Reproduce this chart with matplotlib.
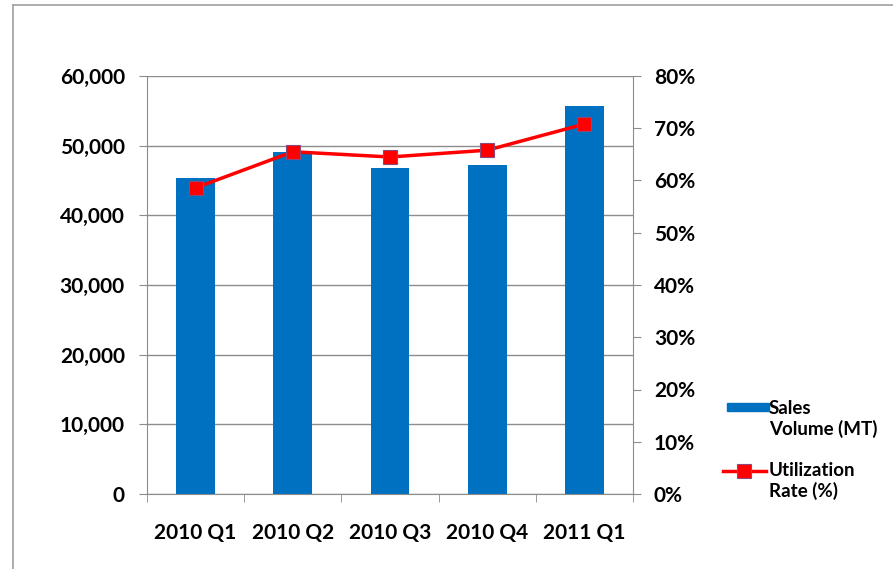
import matplotlib
matplotlib.use("Agg")
import matplotlib.pyplot as plt
from matplotlib.lines import Line2D
from matplotlib.patches import Rectangle
from matplotlib.ticker import FuncFormatter, MultipleLocator

plt.rcParams["font.family"] = ["Lato", "DejaVu Sans"]

quarters = ["2010 Q1", "2010 Q2", "2010 Q3", "2010 Q4", "2011 Q1"]
sales_mt = [45400, 49100, 46800, 47200, 55700]
utilization_pct = [58.6, 65.5, 64.5, 65.8, 70.8]

BAR_BLUE = "#0070C0"
LINE_RED = "#FF0000"
GRID = "#8c8c8c"
W, H = 893, 569


def fx(px):
    return px / W


def fy(py):
    return 1 - py / H


fig = plt.figure(figsize=(W / 100, H / 100), dpi=100)
fig.patch.set_facecolor("white")

# outer frame of the chart box
fig.add_artist(Line2D([fx(13), fx(13)], [0, fy(5)], color="#a0a0a0", lw=1.2))
fig.add_artist(Line2D([fx(13), 1], [fy(5), fy(5)], color="#a0a0a0", lw=1.2))

ax = fig.add_axes([fx(147), fy(494), fx(633 - 147), (494 - 76) / H])
x = range(len(quarters))
ax.bar(x, sales_mt, width=0.4, color=BAR_BLUE, zorder=2)
ax.set_xlim(-0.5, len(quarters) - 0.5)
ax.set_ylim(0, 60000)
ax.yaxis.set_major_locator(MultipleLocator(10000))
ax.yaxis.set_major_formatter(FuncFormatter(lambda v, _: f"{int(v):,}"))
ax.grid(True, axis="y", color=GRID, lw=1.0, zorder=0)
ax.set_xticks(list(x))
ax.set_xticklabels(quarters)
ax.set_xticks([i + 0.5 for i in range(-1, len(quarters))], minor=True)
ax.tick_params(axis="x", which="major", length=0, pad=21, labelsize=15)
ax.tick_params(axis="x", which="minor", length=6, color=GRID, direction="out")
ax.tick_params(axis="y", length=6, color=GRID, direction="out", pad=10, labelsize=15)
for lbl in ax.get_xticklabels() + ax.get_yticklabels():
    lbl.set_fontweight("bold")
for side in ["top", "right"]:
    ax.spines[side].set_visible(False)
ax.spines["left"].set_color(GRID)
ax.spines["bottom"].set_color(GRID)

ax2 = ax.twinx()
ax2.plot(x, utilization_pct, color=LINE_RED, lw=2.5, marker="s", markersize=10,
         markerfacecolor=LINE_RED, markeredgecolor="#8a4a7a", markeredgewidth=0.8, zorder=3)
ax2.set_ylim(0, 80)
ax2.yaxis.set_major_locator(MultipleLocator(10))
ax2.yaxis.set_major_formatter(FuncFormatter(lambda v, _: f"{int(v)}%"))
ax2.tick_params(axis="y", length=6, color=GRID, direction="out", pad=9, labelsize=15)
for lbl in ax2.get_yticklabels():
    lbl.set_fontweight("bold")
for side in ["top", "left", "bottom"]:
    ax2.spines[side].set_visible(False)
ax2.spines["right"].set_color(GRID)

# legend, laid out by hand so each key sits beside the first text line
fig.add_artist(Rectangle((fx(727), fy(411)), fx(42), 8 / H, color=BAR_BLUE))
fig.text(fx(769), fy(400), "Sales\nVolume (MT)", fontsize=13.5, fontweight="bold",
         va="top", ha="left", linespacing=1.22)
fig.add_artist(Line2D([fx(723), fx(766)], [fy(471), fy(471)], color=LINE_RED, lw=2.5))
fig.add_artist(Line2D([fx(744)], [fy(471)], marker="s", markersize=10, lw=0,
                      markerfacecolor=LINE_RED, markeredgecolor="#8a4a7a", markeredgewidth=0.8))
fig.text(fx(769), fy(462), "Utilization\nRate (%)", fontsize=13.5, fontweight="bold",
         va="top", ha="left", linespacing=1.22)

fig.savefig("out.png", dpi=100)
